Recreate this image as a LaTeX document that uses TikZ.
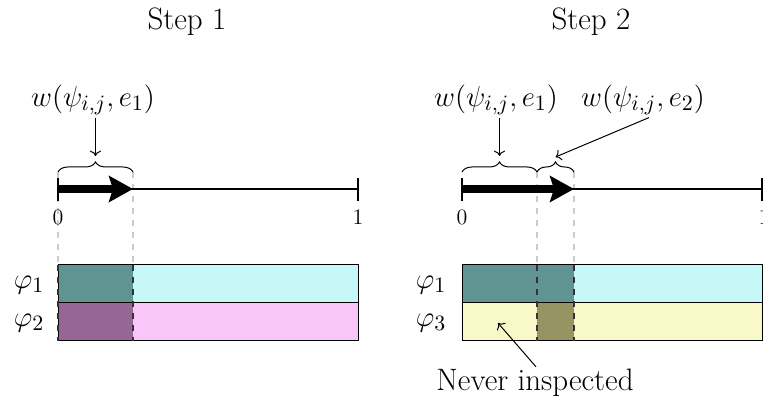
\documentclass[tikz,border=0pt]{standalone}
\usetikzlibrary{arrows.meta,decorations.pathreplacing}
\definecolor{lcyan}{RGB}{198,248,248}
\definecolor{lmag}{RGB}{248,198,248}
\definecolor{lyel}{RGB}{248,248,200}
\definecolor{dteal}{RGB}{96,148,146}
\definecolor{dpurp}{RGB}{150,102,150}
\definecolor{dolive}{RGB}{150,148,98}
\begin{document}
\begin{tikzpicture}[x=0.5pt,y=-0.5pt,
  guide/.style={gray!40,dashed,line width=0.6pt},
  cell/.style={draw=black,line width=0.5pt},
  celldash/.style={black!80,dashed,line width=0.6pt},
  axisline/.style={line width=1.2pt},
  tickmark/.style={line width=1.2pt},
  progress/.style={line width=4.2pt,-{Stealth[length=12pt,width=13pt,inset=2pt]}},
  bracemark/.style={decorate,decoration={brace,amplitude=5pt},line width=0.5pt},
  lbl/.style={font=\fontsize{15.5}{18}\selectfont,inner sep=1pt},
  numlbl/.style={font=\fontsize{11}{13}\selectfont,inner sep=1pt},
  pointer/.style={->,line width=0.5pt}]
\useasboundingbox (0,0) rectangle (763,399);

% ---------- Step 1 ----------
\node[lbl] (title1) at (187,22) {Step 1};
\fill[lcyan] (58,265) rectangle (358,303);
\fill[dteal] (58,265) rectangle (133,303);
\fill[lmag] (58,303) rectangle (358,341);
\fill[dpurp] (58,303) rectangle (133,341);
\draw[guide] (58,172) -- (58,265);
\draw[guide] (133,172) -- (133,265);
\draw[cell] (58,265) rectangle (358,341);
\draw[cell] (58,303) -- (358,303);
\draw[celldash] (58,265) -- (58,341);
\draw[celldash] (133,265) -- (133,341);
\node[lbl] (phiA1) at (29,285) {$\varphi_1$};
\node[lbl] (phiA2) at (29,323) {$\varphi_2$};

\coordinate (A0) at (58,189);
\coordinate (A1) at (358,189);
\coordinate (Ae1) at (133,189);
\draw[axisline] (A0) -- (A1);
\draw[progress] (A0) -- (Ae1);
\draw[tickmark] (58,178) -- (58,201);
\draw[tickmark] (358,178) -- (358,201);
\node[numlbl] (zeroA) at (58,217) {0};
\node[numlbl] (oneA) at (358,217) {1};

\coordinate (bA1s) at (58,172);
\coordinate (bA1e) at (133,172);
\draw[bracemark] (bA1s) -- (bA1e);
\coordinate (tipA1) at (95.5,156);
\node[lbl] (wA1) at (93,100) {$w(\psi_{i,j},e_1)$};
\draw[pointer] (wA1.south -| tipA1) -- (tipA1);

% ---------- Step 2 ----------
\node[lbl] (title2) at (591,22) {Step 2};
\fill[lcyan] (462,265) rectangle (762,303);
\fill[dteal] (462,265) rectangle (574,303);
\fill[lyel] (462,303) rectangle (762,341);
\fill[dolive] (537,303) rectangle (574,341);
\draw[guide] (537,172) -- (537,265);
\draw[guide] (574,172) -- (574,265);
\draw[cell] (462,265) rectangle (762,341);
\draw[cell] (462,303) -- (762,303);
\draw[celldash] (537,265) -- (537,341);
\draw[celldash] (574,265) -- (574,341);
\node[lbl] (phiB1) at (431,285) {$\varphi_1$};
\node[lbl] (phiB3) at (431,323) {$\varphi_3$};

\coordinate (B0) at (462,189);
\coordinate (B1) at (762,189);
\coordinate (Be2) at (574,189);
\draw[axisline] (B0) -- (B1);
\draw[progress] (B0) -- (Be2);
\draw[tickmark] (462,178) -- (462,201);
\draw[tickmark] (762,178) -- (762,201);
\node[numlbl] (zeroB) at (462,217) {0};
\node[numlbl] (oneB) at (764,217) {1};

\coordinate (bB1s) at (462,172);
\coordinate (bB1e) at (537,172);
\coordinate (bB2e) at (574,172);
\draw[bracemark] (bB1s) -- (bB1e);
\draw[bracemark] (bB1e) -- (bB2e);
\coordinate (tipB1) at (499.5,156);
\coordinate (tipB2) at (555.5,157);
\node[lbl] (wB1) at (496,100) {$w(\psi_{i,j},e_1)$};
\node[lbl] (wB2) at (643,100) {$w(\psi_{i,j},e_2)$};
\draw[pointer] (wB1.south -| tipB1) -- (tipB1);
\draw[pointer] ([xshift=3pt]wB2.south) -- (tipB2);

\coordinate (never) at (498,323);
\node[lbl] (nevertxt) at (535,383) {Never inspected};
\draw[pointer] ([xshift=0.5pt]nevertxt.north) -- (never);
\end{tikzpicture}
\end{document}
